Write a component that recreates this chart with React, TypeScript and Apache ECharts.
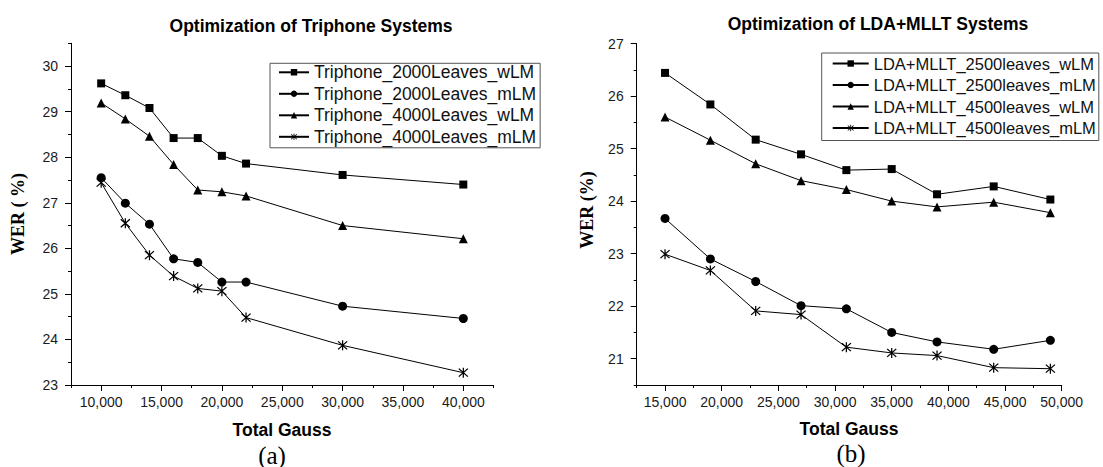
import React, { useEffect, useRef } from 'react';
import * as echarts from 'echarts';

// ---------- Data ----------
const leftGauss = [10000, 12000, 14000, 16000, 18000, 20000, 22000, 30000, 40000];
const tri2000wLM = [29.62, 29.36, 29.08, 28.42, 28.42, 28.03, 27.86, 27.61, 27.4];
const tri2000mLM = [27.55, 26.99, 26.53, 25.77, 25.69, 25.26, 25.26, 24.73, 24.46];
const tri4000wLM = [29.19, 28.84, 28.46, 27.84, 27.28, 27.24, 27.15, 26.5, 26.21];
const tri4000mLM = [27.44, 26.55, 25.85, 25.39, 25.12, 25.06, 24.48, 23.87, 23.27];

const rightGauss = [15000, 19000, 23000, 27000, 31000, 35000, 39000, 44000, 49000];
const lda2500wLM = [26.44, 25.84, 25.17, 24.89, 24.59, 24.61, 24.13, 24.28, 24.03];
const lda2500mLM = [23.67, 22.9, 22.47, 22.01, 21.95, 21.5, 21.32, 21.18, 21.35];
const lda4500wLM = [25.6, 25.16, 24.71, 24.39, 24.22, 24.0, 23.89, 23.98, 23.78];
const lda4500mLM = [22.99, 22.68, 21.91, 21.84, 21.22, 21.11, 21.06, 20.83, 20.81];

const leftNames = ['Triphone_2000Leaves_wLM', 'Triphone_2000Leaves_mLM', 'Triphone_4000Leaves_wLM', 'Triphone_4000Leaves_mLM'];
const rightNames = ['LDA+MLLT_2500leaves_wLM', 'LDA+MLLT_2500leaves_mLM', 'LDA+MLLT_4500leaves_wLM', 'LDA+MLLT_4500leaves_mLM'];

const leftMajorX = [10000, 15000, 20000, 25000, 30000, 35000, 40000];
const leftMinorX = [7500, 12500, 17500, 22500, 27500, 32500, 37500, 42500];
const leftMajorY = [23, 24, 25, 26, 27, 28, 29, 30];
const leftMinorY = [23.5, 24.5, 25.5, 26.5, 27.5, 28.5, 29.5, 30.5];
const rightMajorX = [15000, 20000, 25000, 30000, 35000, 40000, 45000, 50000];
const rightMinorX = [12500, 17500, 22500, 27500, 32500, 37500, 42500, 47500];
const rightMajorY = [21, 22, 23, 24, 25, 26, 27];
const rightMinorY = [20.5, 21.5, 22.5, 23.5, 24.5, 25.5, 26.5];

const SANS = '"Liberation Sans", Arial, Helvetica, sans-serif';
const SERIF = '"Liberation Serif", "Times New Roman", serif';
const STAR = 'path://M44.5,0L55.5,0L55.5,100L44.5,100Z M14,6L94,86L86,94L6,14Z M94,14L14,94L6,86L86,6Z';

const symbols = ['rect', 'circle', 'triangle', STAR];
const symbolSizes = [8, 9, 9, 10];

const fmtThousands = (v: number) => Number(v).toLocaleString('en-US');

function mainAxis(gridIndex: number, min: number, max: number, major: number[], isX: boolean) {
  return {
    type: 'value',
    gridIndex,
    min,
    max,
    position: isX ? 'bottom' : 'left',
    axisLine: { show: true, onZero: false, lineStyle: { color: '#000', width: 1 } },
    axisTick: { show: true, customValues: major, length: 6, lineStyle: { color: '#000', width: 1 } },
    axisLabel: {
      show: true,
      customValues: major,
      formatter: isX ? fmtThousands : (v: number) => String(v),
      margin: isX ? 10 : 13,
      fontSize: 14,
      fontFamily: SANS,
      color: '#1a1a1a',
    },
    splitLine: { show: false },
  };
}

function minorAxis(gridIndex: number, min: number, max: number, minor: number[], isX: boolean) {
  return {
    type: 'value',
    gridIndex,
    min,
    max,
    position: isX ? 'bottom' : 'left',
    axisLine: { show: false, onZero: false },
    axisTick: { show: true, customValues: minor, length: 3, lineStyle: { color: '#000', width: 1 } },
    axisLabel: { show: false },
    splitLine: { show: false },
  };
}

function makeSeries(name: string, xs: number[], ys: number[], idx: number, axisIdx: number) {
  return {
    type: 'line',
    name,
    xAxisIndex: axisIdx,
    yAxisIndex: axisIdx,
    data: xs.map((x, i) => [x, ys[i]]),
    symbol: symbols[idx],
    symbolSize: symbolSizes[idx],
    showSymbol: true,
    lineStyle: { color: '#000', width: 1 },
    itemStyle: { color: '#000' },
    emphasis: { disabled: true },
  };
}

function legendCfg(names: string[], left: number, top: number, itemWidth: number, fontSize: number, itemGap: number, padding: number[]) {
  return {
    data: names,
    orient: 'vertical',
    left,
    top,
    itemWidth,
    itemHeight: 8,
    itemGap,
    selectedMode: false,
    padding,
    borderColor: '#555',
    borderWidth: 1,
    backgroundColor: '#fff',
    textStyle: { fontSize, fontFamily: SANS, color: '#111' },
  };
}

function txt(text: string, x: number, y: number, font: string, rotation = 0) {
  return {
    type: 'text',
    x,
    y,
    rotation,
    silent: true,
    style: { text, font, fill: '#000', align: 'center', verticalAlign: 'middle' },
  };
}

export default function App() {
  const ref = useRef<HTMLDivElement>(null);
  useEffect(() => {
    if (!ref.current) return;
    const chart = echarts.init(ref.current, null, { renderer: 'svg' });
    const leftYs = [tri2000wLM, tri2000mLM, tri4000wLM, tri4000mLM];
    const rightYs = [lda2500wLM, lda2500mLM, lda4500wLM, lda4500mLM];
    chart.setOption({
      animation: false,
      backgroundColor: '#fff',
      grid: [
        { left: 71, top: 43.3, width: 422.5, height: 341.7 },
        { left: 636.7, top: 43.5, width: 425, height: 341.5 },
      ],
      xAxis: [
        mainAxis(0, 7500, 42500, leftMajorX, true),
        mainAxis(1, 12500, 50000, rightMajorX, true),
        minorAxis(0, 7500, 42500, leftMinorX, true),
        minorAxis(1, 12500, 50000, rightMinorX, true),
      ],
      yAxis: [
        mainAxis(0, 23, 30.5, leftMajorY, false),
        mainAxis(1, 20.5, 27, rightMajorY, false),
        minorAxis(0, 23, 30.5, leftMinorY, false),
        minorAxis(1, 20.5, 27, rightMinorY, false),
      ],
      legend: [
        legendCfg(leftNames, 270, 63.3, 30, 17.5, 3.5, [0, 4, 2, 8]),
        legendCfg(rightNames, 821.7, 53, 36, 16.5, 4.5, [2, 3, 4, 10]),
      ],
      series: [
        ...leftNames.map((n, i) => makeSeries(n, leftGauss, leftYs[i], i, 0)),
        ...rightNames.map((n, i) => makeSeries(n, rightGauss, rightYs[i], i, 1)),
      ],
      graphic: [
        txt('Optimization of Triphone Systems', 311, 26, `bold 17.5px ${SANS}`),
        txt('Optimization of LDA+MLLT Systems', 878, 24, `bold 17.5px ${SANS}`),
        txt('Total Gauss', 282, 430, `bold 17.5px ${SANS}`),
        txt('Total Gauss', 849, 429.3, `bold 17.5px ${SANS}`),
        txt('WER ( %)', 18.3, 214, `bold 18px ${SERIF}`, Math.PI / 2),
        txt('WER (%)', 586.7, 210, `bold 18px ${SERIF}`, Math.PI / 2),
        txt('(a)', 272, 455, `25px ${SERIF}`),
        txt('(b)', 851, 453, `25px ${SERIF}`),
      ],
    });
    return () => chart.dispose();
  }, []);
  return (
    <div
      ref={ref}
      style={{ position: 'absolute', left: 0, top: 0, width: 1103, height: 467, background: '#fff' }}
    />
  );
}
